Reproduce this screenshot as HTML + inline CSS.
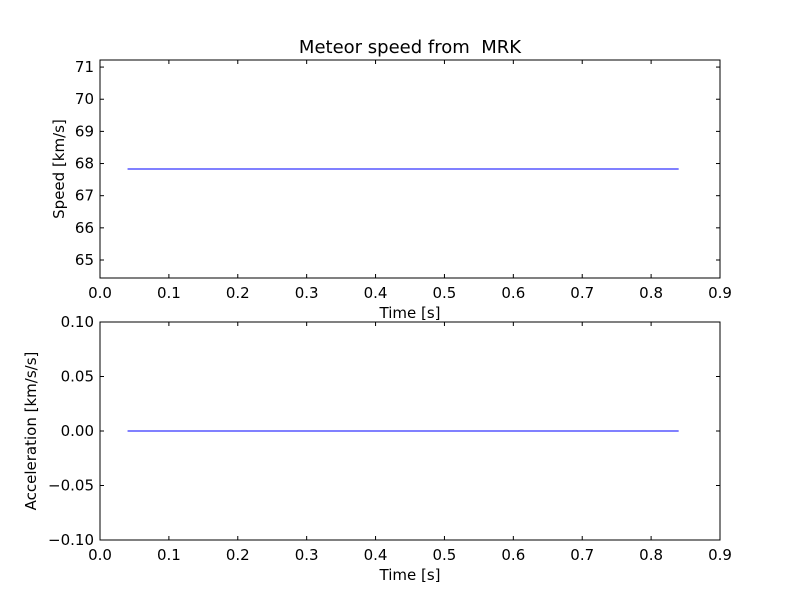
<!DOCTYPE html>
<html><head><meta charset="utf-8"><style>
body{margin:0;background:#fff}
svg text{font-family:"DejaVu Sans","Liberation Sans",sans-serif;font-size:15px;fill:#000;white-space:pre}
</style></head><body>
<svg id="fig" width="800" height="600"></svg>
<script>
const timeVals=[0.04,0.84];
const speedVals=[67.83,67.83];
const accelVals=[0,0];
const xTicks=[0,0.1,0.2,0.3,0.4,0.5,0.6,0.7,0.8,0.9];
const speedTicks=[65,66,67,68,69,70,71];
const accelTicks=[-0.10,-0.05,0.00,0.05,0.10];
const NS="http://www.w3.org/2000/svg";
const svg=document.getElementById('fig');
function mk(t,a,p){const e=document.createElementNS(NS,t);for(const k in a)e.setAttribute(k,a[k]);(p||svg).appendChild(e);return e;}
function axes(name,top,bot,ymin,ymax,yt,fmt,yvals,ylabel,title){
  const L=100,R=720;
  const g=mk('g',{});
  
  
  const sx=v=>L+(v-0)/(0.9)*(R-L);
  const sy=v=>bot-(v-ymin)/(ymax-ymin)*(bot-top);
  mk('rect',{x:L,y:top,width:R-L,height:bot-top,fill:'none',stroke:'#000','stroke-width':1},g);
  xTicks.forEach(v=>{const x=sx(v);
    mk('line',{x1:x,x2:x,y1:bot,y2:bot-4,stroke:'#000'},g);
    mk('line',{x1:x,x2:x,y1:top,y2:top+4,stroke:'#000'},g);
    const t=mk('text',{x:x,y:bot+20,'text-anchor':'middle'},g);t.textContent=v.toFixed(1);
    
    });
  yt.forEach(v=>{const y=sy(v);
    mk('line',{x1:L,x2:L+4,y1:y,y2:y,stroke:'#000'},g);
    mk('line',{x1:R,x2:R-4,y1:y,y2:y,stroke:'#000'},g);
    const t=mk('text',{x:L-6,y:y+5,'text-anchor':'end'},g);t.textContent=fmt(v);
    
    });
  const pts=timeVals.map((v,i)=>sx(v)+','+sy(yvals[i])).join(' ');
  const pl=mk('polyline',{points:pts,fill:'none',stroke:'#0000ff','stroke-width':1},g);
  
  
  const xl=mk('text',{x:(L+R)/2,y:bot+40,'text-anchor':'middle'},g);xl.textContent='Time [s]';
  
  
  const yx=L-(name==='speed-axes'?36:64);
  const yl=mk('text',{x:yx,y:(top+bot)/2,'text-anchor':'middle',transform:`rotate(-90 ${yx} ${(top+bot)/2})`},g);yl.textContent=ylabel;
  
  
  if(title){const tt=mk('text',{x:(L+R)/2,y:top-7,'text-anchor':'middle'},g);tt.style.fontSize='18px';tt.textContent=title;
    
    }
}
axes('speed-axes',60,278,64.44,71.22,speedTicks,v=>String(v),speedVals,'Speed [km/s]','Meteor speed from  MRK');
axes('acceleration-axes',322,540,-0.1,0.1,accelTicks,v=>(v<0?'\u2212':'')+Math.abs(v).toFixed(2),accelVals,'Acceleration [km/s/s]',null);
</script>
</body></html>
